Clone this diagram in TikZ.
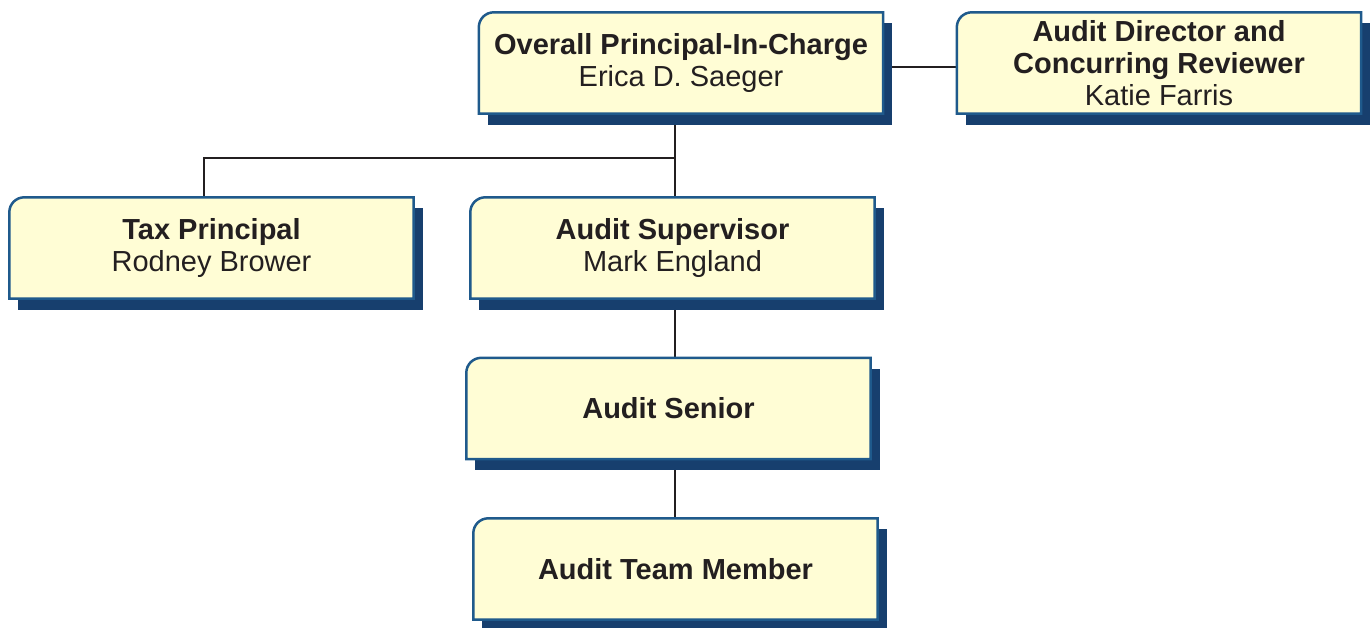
\documentclass[tikz,border=0pt]{standalone}
\usepackage{fontspec}
\setmainfont{Liberation Sans}
\usetikzlibrary{backgrounds}
\definecolor{boxfill}{HTML}{FFFDD5}
\definecolor{boxedge}{HTML}{1F5A8C}
\definecolor{boxshade}{HTML}{173F6E}
\definecolor{ink}{HTML}{231F20}
\tikzset{
  post/.style={minimum width=404pt,minimum height=101pt,inner sep=0pt,align=center,
    text=ink,font=\fontsize{29}{32}\selectfont},
  link/.style={draw=ink,line width=2pt},
}
\begin{document}
\begin{tikzpicture}[x=1pt,y=-1pt]
	\def\cornerr{15}
	\useasboundingbox (0,0) rectangle (1370,627);
	\node[post] (top) at (681,63) {\textbf{Overall Principal-In-Charge}\\Erica D. Saeger};
	\node[post] (dir) at (1159,63) {\textbf{Audit Director and}\\\textbf{Concurring Reviewer}\\Katie Farris};
	\node[post] (tax) at (211.5,248) {\textbf{Tax Principal}\\Rodney Brower};
	\node[post] (sup) at (672.5,248) {\textbf{Audit Supervisor}\\Mark England};
	\node[post] (sen) at (668.5,408.5) {\textbf{Audit Senior}};
	\node[post] (team) at (675.5,569) {\textbf{Audit Team Member}};
	\coordinate (spine) at (675,0);
	\coordinate (taxdrop) at (204,0);
	\coordinate (bus) at (0,158);
	\coordinate (side) at (0,67);
	\begin{scope}[on background layer]
		% connectors first, boxes and shadows cover their ends
		\draw[link] (top.south -| spine) -- (sup.north -| spine);
		\draw[link] (bus -| spine) -| (tax.north -| taxdrop);
		\draw[link] (sup.south -| spine) -- (sen.north -| spine);
		\draw[link] (sen.south -| spine) -- (team.north -| spine);
		\draw[link] (top.east |- side) -- (dir.west |- side);
		\foreach \n in {top,dir,tax,sup,sen,team}{
			\fill[boxshade] ([shift={(9,11)}]\n.south west) rectangle ([shift={(9,11)}]\n.north east);
			\draw[boxedge,fill=boxfill,line width=2.5pt] (\n.south west) -- ([yshift=-\cornerr pt]\n.north west)
				arc[start angle=180,end angle=90,radius=\cornerr pt] -- (\n.north east) -- (\n.south east) -- cycle;
		}
	\end{scope}
\end{tikzpicture}
\end{document}
